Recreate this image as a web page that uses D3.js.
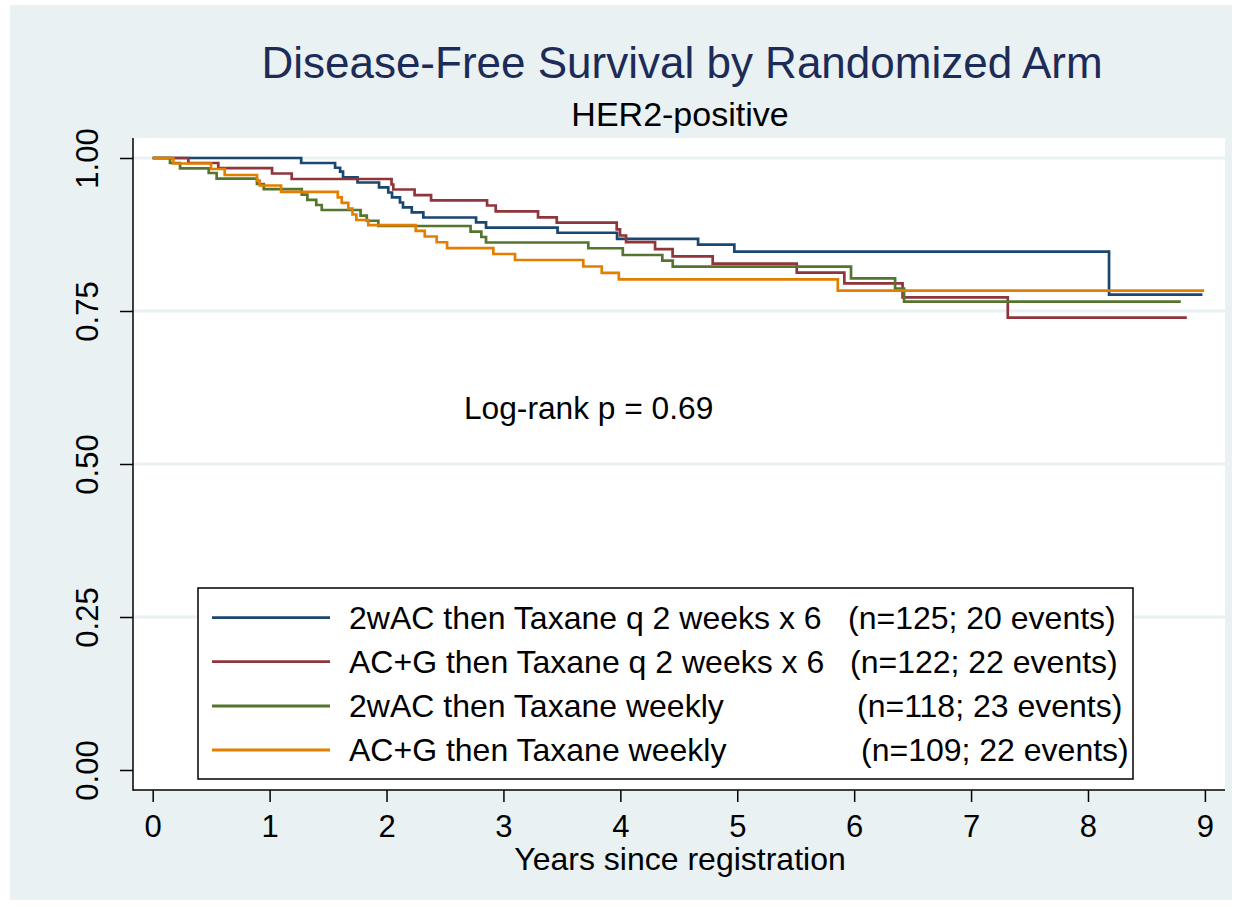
<!DOCTYPE html>
<html>
<head>
<meta charset="utf-8">
<script src="https://cdn.jsdelivr.net/npm/d3@7/dist/d3.min.js"></script>
<style>
  html, body { margin: 0; padding: 0; background: #ffffff; }
  svg { display: block; font-family: "Liberation Sans", Arial, Helvetica, sans-serif; }
</style>
</head>
<body>
<svg id="chart" width="1242" height="907"></svg>
<script>
// ---------------- DATA ----------------
const seriesNames = [
  "2wAC then Taxane q 2 weeks x 6",
  "AC+G then Taxane q 2 weeks x 6",
  "2wAC then Taxane weekly",
  "AC+G then Taxane weekly"
];
const seriesCounts = [
  "(n=125; 20 events)",
  "(n=122; 22 events)",
  "(n=118; 23 events)",
  "(n=109; 22 events)"
];
const seriesColors = ["#1a476f", "#90353b", "#55752f", "#e37e00"];

// Kaplan-Meier step values: time (years) of each step, survival after the step.
// Last element = end of follow-up (censored), same survival.
const q2wAC_times = [0, 1.270, 1.560, 1.603, 1.628, 1.752, 1.936, 2.015, 2.047, 2.115, 2.141, 2.216, 2.315, 2.766, 2.851, 3.463, 3.972, 4.665, 4.975, 8.180, 8.979];
const q2wAC_surv  = [1, 0.9918, 0.9841, 0.9776, 0.9685, 0.9600, 0.9521, 0.9436, 0.9355, 0.9273, 0.9194, 0.9113, 0.9028, 0.8949, 0.8861, 0.8779, 0.8680, 0.8583, 0.8469, 0.7766, 0.7766];

const q2ACG_times = [0, 0.305, 0.561, 1.021, 1.189, 2.043, 2.058, 2.240, 2.381, 2.860, 2.934, 3.296, 3.456, 3.969, 3.997, 4.049, 4.297, 4.447, 4.790, 5.509, 5.916, 6.414, 7.314, 8.845];
const q2ACG_surv  = [1, 0.9918, 0.9833, 0.9747, 0.9657, 0.9567, 0.9485, 0.9395, 0.9309, 0.9224, 0.9129, 0.9031, 0.8943, 0.8835, 0.8734, 0.8627, 0.8510, 0.8394, 0.8273, 0.8126, 0.7953, 0.7724, 0.7391, 0.7391];

const wkAC_times = [0, 0.148, 0.234, 0.479, 0.547, 0.892, 0.950, 1.275, 1.323, 1.399, 1.446, 1.778, 1.831, 1.930, 2.719, 2.811, 2.851, 3.726, 4.021, 4.359, 4.448, 5.973, 6.350, 6.427, 8.794];
const wkAC_surv  = [1, 0.9918, 0.9832, 0.9755, 0.9662, 0.9575, 0.9493, 0.9400, 0.9317, 0.9232, 0.9150, 0.9060, 0.8975, 0.8889, 0.8796, 0.8709, 0.8619, 0.8525, 0.8415, 0.8322, 0.8224, 0.8034, 0.7868, 0.7652, 0.7652];

const wkACG_times = [0, 0.176, 0.499, 0.616, 0.892, 0.915, 1.098, 1.583, 1.617, 1.673, 1.709, 1.742, 1.844, 2.250, 2.327, 2.429, 2.518, 2.914, 3.099, 3.683, 3.841, 3.987, 5.860, 8.993];
const wkACG_surv  = [1, 0.9910, 0.9820, 0.9722, 0.9629, 0.9551, 0.9448, 0.9355, 0.9268, 0.9172, 0.9077, 0.8987, 0.8902, 0.8810, 0.8717, 0.8623, 0.8526, 0.8431, 0.8333, 0.8227, 0.8124, 0.8018, 0.7832, 0.7832];

const xTicks = [0, 1, 2, 3, 4, 5, 6, 7, 8, 9];
const yTicks = [0, 0.25, 0.5, 0.75, 1];
const yTickLabels = ["0.00", "0.25", "0.50", "0.75", "1.00"];
const yGrid = [0.25, 0.5, 0.75, 1];

const titleText = "Disease-Free Survival by Randomized Arm";
const subtitleText = "HER2-positive";
const xAxisTitle = "Years since registration";
const annotationText = "Log-rank p = 0.69";

// ---------------- LAYOUT ----------------
const svg = d3.select("#chart");
const bg = "#e9f1f3";
const plotL = 133, plotR = 1225, plotT = 138, plotB = 790;
const bodyFont = 32;

svg.append("rect").attr("x", 10).attr("y", 5).attr("width", 1222).attr("height", 895).attr("fill", bg);
svg.append("rect").attr("x", plotL).attr("y", plotT).attr("width", plotR - plotL).attr("height", plotB - plotT).attr("fill", "#ffffff");

const x = d3.scaleLinear().domain([0, 9]).range([152.7, 1204.9]);
const y = d3.scaleLinear().domain([0, 1]).range([770, 158]);

// grid
svg.append("g").selectAll("line").data(yGrid).join("line")
  .attr("x1", plotL).attr("x2", plotR)
  .attr("y1", d => y(d)).attr("y2", d => y(d))
  .attr("stroke", bg).attr("stroke-width", 3);

// curves
const series = [
  {t: q2wAC_times, s: q2wAC_surv},
  {t: q2ACG_times, s: q2ACG_surv},
  {t: wkAC_times, s: wkAC_surv},
  {t: wkACG_times, s: wkACG_surv}
];
const line = d3.line().curve(d3.curveStepAfter).x(d => x(d[0])).y(d => y(d[1]));
svg.append("g").selectAll("path").data(series).join("path")
  .attr("d", d => line(d.t.map((tt, i) => [tt, d.s[i]])))
  .attr("fill", "none")
  .attr("stroke", (d, i) => seriesColors[i])
  .attr("stroke-width", 2.7)
  .attr("stroke-linejoin", "miter");

// axes
const yAxis = d3.axisLeft(y).tickValues(yTicks).tickSize(13).tickPadding(0).tickFormat((d, i) => yTickLabels[i]);
const gy = svg.append("g").attr("transform", `translate(${plotL},0)`).call(yAxis);
gy.select(".domain").remove();
gy.selectAll(".tick line").attr("stroke", "#000").attr("stroke-width", 1.5);
gy.selectAll(".tick text")
  .attr("x", 0).attr("y", 0).attr("dy", null)
  .attr("transform", "translate(-35,0) rotate(-90)")
  .attr("text-anchor", "middle")
  .attr("font-size", 31).attr("fill", "#000")
  .attr("font-family", "Liberation Sans, Arial, sans-serif");

const xAxis = d3.axisBottom(x).tickValues(xTicks).tickSize(12).tickPadding(0).tickFormat(d3.format("d"));
const gx = svg.append("g").attr("transform", `translate(0,${plotB})`).call(xAxis);
gx.select(".domain").remove();
gx.selectAll(".tick line").attr("stroke", "#000").attr("stroke-width", 1.5);
gx.selectAll(".tick text").attr("y", 47).attr("dy", null)
  .attr("font-size", 31).attr("fill", "#000")
  .attr("font-family", "Liberation Sans, Arial, sans-serif");

svg.append("line").attr("x1", plotL).attr("x2", plotL).attr("y1", plotT).attr("y2", plotB + 0.75)
  .attr("stroke", "#000").attr("stroke-width", 1.5);
svg.append("line").attr("x1", plotL).attr("x2", plotR).attr("y1", plotB).attr("y2", plotB)
  .attr("stroke", "#000").attr("stroke-width", 1.5);

// titles
svg.append("text").attr("x", 682).attr("y", 78).attr("text-anchor", "middle")
  .attr("font-size", 44).attr("fill", "#1c2b57").text(titleText);
svg.append("text").attr("x", 680).attr("y", 126).attr("text-anchor", "middle")
  .attr("font-size", 34).attr("fill", "#000").text(subtitleText);
svg.append("text").attr("x", 680).attr("y", 870).attr("text-anchor", "middle")
  .attr("font-size", bodyFont).attr("fill", "#000").text(xAxisTitle);
svg.append("text").attr("x", 464).attr("y", 419)
  .attr("font-size", 31.7).attr("fill", "#000").text(annotationText);

// legend
const lg = svg.append("g");
lg.append("rect").attr("x", 198).attr("y", 588).attr("width", 935).attr("height", 191)
  .attr("fill", "#fff").attr("stroke", "#000").attr("stroke-width", 1.5);
const rowY = [617.7, 661.7, 706, 750];
const countX = [848, 850, 857, 861];
seriesNames.forEach((name, i) => {
  lg.append("line").attr("x1", 212).attr("x2", 330).attr("y1", rowY[i]).attr("y2", rowY[i])
    .attr("stroke", seriesColors[i]).attr("stroke-width", 2.8);
  lg.append("text").attr("x", 349).attr("y", rowY[i] + 11)
    .attr("font-size", bodyFont).attr("fill", "#000").text(name);
  lg.append("text").attr("x", countX[i]).attr("y", rowY[i] + 11)
    .attr("font-size", bodyFont).attr("fill", "#000").text(seriesCounts[i]);
});
</script>
</body>
</html>
